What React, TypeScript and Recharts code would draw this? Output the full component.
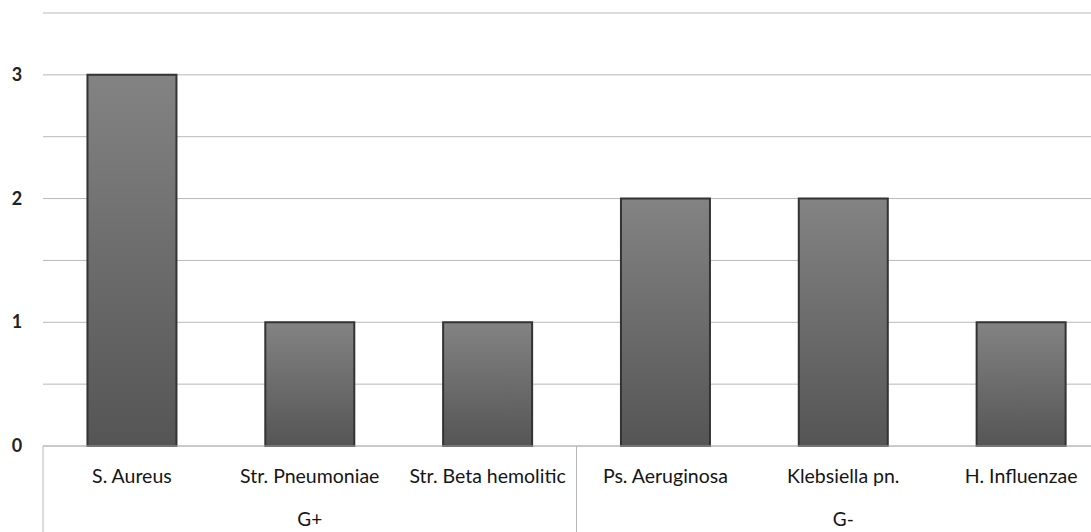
import React from 'react';
import { BarChart, Bar, XAxis, YAxis, CartesianGrid } from 'recharts';

// data
const categories = ['S. Aureus', 'Str. Pneumoniae', 'Str. Beta hemolitic', 'Ps. Aeruginosa', 'Klebsiella pn.', 'H. Influenzae'];
const counts = [3, 1, 1, 2, 2, 1];
const groups = [
  { name: 'G+', size: 3 },
  { name: 'G-', size: 3 },
];
const yTicks = [0, 0.5, 1, 1.5, 2, 2.5, 3, 3.5];

const data = categories.map((name, i) => ({ name, value: counts[i] }));

// which group a category belongs to, and whether it starts / centres its group
const groupInfo = (() => {
  const out: { start: boolean; label: string | null }[] = [];
  groups.forEach((g) => {
    for (let k = 0; k < g.size; k++) {
      out.push({ start: k === 0, label: k === Math.floor(g.size / 2) ? g.name : null });
    }
  });
  return out;
})();

const CHART_W = 1110;
const CHART_H = 532;
const Y_AXIS_W = 43;
const FONT = 'Lato, "Open Sans", sans-serif';

const plotW = CHART_W - Y_AXIS_W;
const band = plotW / categories.length;

const YTick = (props: any) => {
  const { y, payload } = props;
  if (!Number.isInteger(payload.value)) return null;
  return (
    <text x={17} y={y + 6} textAnchor="middle" fontSize={18} fontWeight="bold" fill="#222" fontFamily={FONT}>
      {payload.value}
    </text>
  );
};

const XTick = (props: any) => {
  const { x, y, payload, index } = props;
  const info = groupInfo[index];
  return (
    <g>
      {info && info.start && (
        <line x1={x - band / 2} x2={x - band / 2} y1={y} y2={y + 90} stroke="#b8b8b8" strokeWidth={1} />
      )}
      <text x={x} y={y + 37} textAnchor="middle" fontSize={19.5} fill="#151515" fontFamily={FONT}>
        {payload.value}
      </text>
      {info && info.label && (
        <text x={x} y={y + 80} textAnchor="middle" fontSize={19} fill="#151515" fontFamily={FONT}>
          {info.label}
        </text>
      )}
    </g>
  );
};

export default function App() {
  return (
    <div style={{ position: 'fixed', left: 0, top: 0, width: 1091, height: 532, overflow: 'hidden', background: '#fff' }}>
      <BarChart width={CHART_W} height={CHART_H} data={data} margin={{ top: 13, right: 0, left: 0, bottom: 0 }} barCategoryGap="25%">
        <defs>
          <linearGradient id="barFill" x1="0" y1="0" x2="0" y2="1">
            <stop offset="0%" stopColor="#838383" />
            <stop offset="100%" stopColor="#555555" />
          </linearGradient>
        </defs>
        <CartesianGrid vertical={false} stroke="#b8b8b8" />
        <YAxis
          width={Y_AXIS_W}
          domain={[0, 3.5]}
          ticks={yTicks}
          interval={0}
          axisLine={false}
          tickLine={false}
          tick={<YTick />}
        />
        <XAxis
          dataKey="name"
          height={CHART_H - 446}
          interval={0}
          tickSize={0}
          tickMargin={0}
          axisLine={{ stroke: '#b8b8b8' }}
          tickLine={false}
          tick={<XTick />}
        />
        <Bar dataKey="value" fill="url(#barFill)" stroke="#333" strokeWidth={2} isAnimationActive={false} />
      </BarChart>
    </div>
  );
}
